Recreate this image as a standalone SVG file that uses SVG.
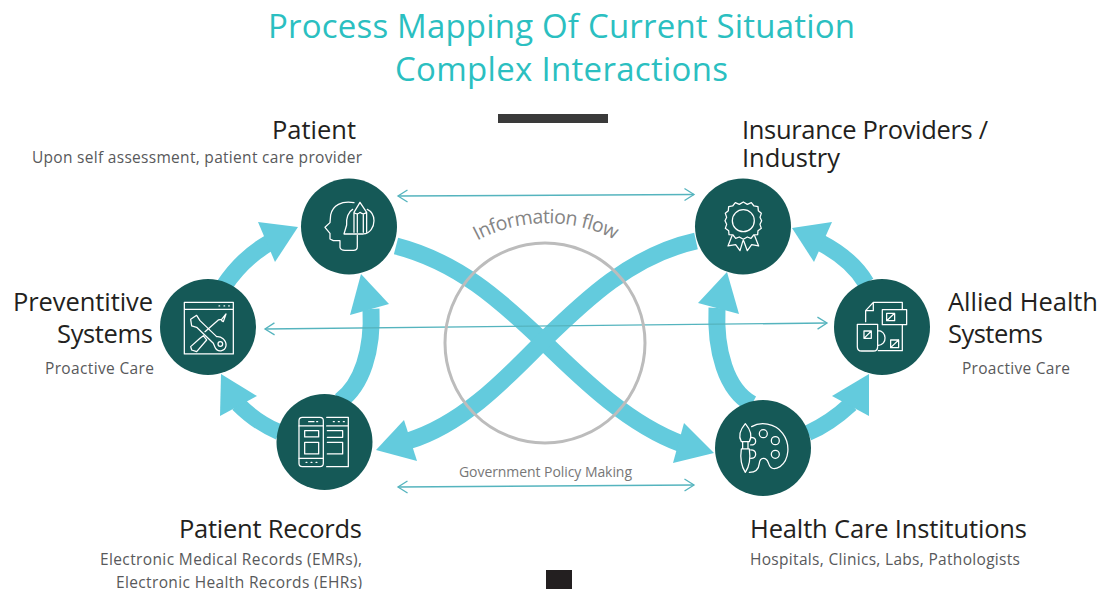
<svg xmlns="http://www.w3.org/2000/svg" width="1102" height="589" viewBox="0 0 1102 589">
<style>
text{font-family:"Open Sans","Noto Sans","Liberation Sans",sans-serif}
.title{font-size:33px;fill:#2bbfc1}
.h{font-size:25.500px;fill:#231f20}
.s{font-size:15.500px;fill:#58595b}
.band{fill:none;stroke:#63cbdd}
.head{fill:#63cbdd}
.node{fill:#155957}
.ic{fill:none;stroke:#fff;stroke-width:3.800;stroke-linejoin:round;stroke-linecap:round}
.thin{fill:none;stroke:#55b4be;stroke-width:1.400}
</style>
<defs>
<marker id="chev" markerUnits="userSpaceOnUse" markerWidth="14" markerHeight="16" refX="10.500" refY="6.500" orient="auto-start-reverse" viewBox="0 0 14 13">
<path d="M1 .5L10.500 6.500L1 12.500" fill="none" stroke="#55b4be" stroke-width="1.300"/>
</marker>
<path id="arc" d="M462 250A148 148 0 0 1 632 250"/>
</defs>
<rect width="1102" height="589" fill="#fff"/>
<text class="title" x="268" y="38" textLength="587" lengthAdjust="spacing">Process Mapping Of Current Situation</text>
<text class="title" x="395" y="81" textLength="333" lengthAdjust="spacing">Complex Interactions</text>
<rect x="498" y="114" width="110" height="9" fill="#3a3a3a"/>
<rect x="546" y="570" width="26" height="19" fill="#231f20"/>
<g id="connectors">
<path class="band" stroke-width="17" d="M224 286C236 268 250 254 269 243"/>
<polygon class="head" points="298,227 258,222 275,262"/>
<path class="band" stroke-width="17" d="M340 401C362 385 373 350 371 309"/>
<polygon class="head" points="361,274 350,315 389,304"/>
<path class="band" stroke-width="16" d="M279 432C262 425 250 416 238 404"/>
<polygon class="head" points="221,374 257,396 220,416"/>
<path class="band" stroke-width="17" d="M396 246C458 262 500 300 543 341C585 382 630 425 682 444"/>
<polygon class="head" points="714,453 684,423 673,463"/>
<path class="band" stroke-width="17" d="M696 241C632 255 585 300 543 341C500 385 460 425 408 441"/>
<polygon class="head" points="376,450 404,420 417,461"/>
<path class="band" stroke-width="17" d="M752 404C726 390 715 350 717 308"/>
<polygon class="head" points="727,272 698,303 739,314"/>
<path class="band" stroke-width="17" d="M866 283C856 266 842 254 821 243"/>
<polygon class="head" points="792,228 832,222 814,262"/>
<path class="band" stroke-width="16" d="M808 433C824 426 838 416 851 404"/>
<polygon class="head" points="869,374 832,396 869,416"/>
<path class="thin" marker-start="url(#chev)" marker-end="url(#chev)" d="M398 196L694 194.500"/>
<path class="thin" marker-start="url(#chev)" marker-end="url(#chev)" d="M265 329L827 323"/>
<path class="thin" marker-start="url(#chev)" marker-end="url(#chev)" d="M398 487L694 485"/>
</g>
<circle id="flow-ring" cx="545" cy="343" r="100" fill="none" stroke="#bcbcbc" stroke-width="3"/>
<text font-size="19.500" fill="#858585" letter-spacing="-.6"><textPath href="#arc" startOffset="18">Information flow</textPath></text>
<text class="s" x="459" y="477" style="font-size:14px;fill:#777" textLength="173" lengthAdjust="spacing">Government Policy Making</text>

<g id="patient">
<circle class="node" cx="349" cy="226.500" r="48"/>
<g transform="translate(150 170) scale(.3333)" class="ic">
<path d="M612 98C575 92 548 105 542 135L540 158L525 172L540 190L540 207L550 212L570 212L570 232Q572 241 585 241L610 241Q622 241 622 230L622 196"/>
<path d="M608 118C595 125 588 145 590 165L582 192L640 192C660 190 672 172 672 152C672 135 664 124 652 118"/>
<path d="M630 97L612 127L612 187M630 97L650 127L650 187M612 127Q621 136 630 127Q640 136 650 127M622 133L622 187M640 133L640 187"/>
</g>
<text class="h" x="272" y="139" textLength="84" lengthAdjust="spacing">Patient</text>
<text class="s" x="32" y="163" textLength="330" lengthAdjust="spacing">Upon self assessment, patient care provider</text>
</g>
<g id="preventitive-systems">
<circle class="node" cx="208" cy="327" r="48"/>
<g transform="translate(150 170) scale(.3333)" class="ic">
<path d="M103 397L250 397L250 552L103 552ZM103 418L250 418"/>
<path d="M207 408L209 408M222 408L224 408M236 408L238 408"/>
<path d="M122 448L140 436L150 452L200 500C212 498 230 510 228 528C225 545 202 548 195 532L190 520L140 472L125 468Z"/>
<circle cx="211" cy="522" r="7"/>
<path d="M165 485L205 450L215 448L228 432L220 455L215 452"/>
<path d="M150 505L160 497L170 510L140 545L125 540L122 530Z"/>
</g>
<text class="h" x="13" y="311" textLength="140" lengthAdjust="spacing">Preventitive</text>
<text class="h" x="57" y="343" textLength="96" lengthAdjust="spacing">Systems</text>
<text class="s" x="45" y="374" textLength="109" lengthAdjust="spacing">Proactive Care</text>
</g>
<g id="patient-records">
<circle class="node" cx="324.500" cy="442" r="48"/>
<g transform="translate(200 340) scale(.3333)" class="ic">
<rect x="297" y="232" width="73" height="148" rx="10"/>
<path d="M297 258L370 258M297 355L370 355M326 245L342 245M350 245L353 245M318 367L321 367M333 367L336 367M348 367L351 367"/>
<rect x="314" y="272" width="42" height="19"/><rect x="314" y="307" width="42" height="35"/>
<path d="M380 232L445 232L445 380L380 380M380 258L445 258M400 245L403 245M415 245L418 245M430 245L433 245M382 272L428 272L428 292L382 292M382 307L428 307L428 342L382 342"/>
</g>
<text class="h" x="179" y="538" textLength="183" lengthAdjust="spacing">Patient Records</text>
<text class="s" x="100" y="565" textLength="262" lengthAdjust="spacing">Electronic Medical Records (EMRs),</text>
<text class="s" x="116" y="588" textLength="246" lengthAdjust="spacing">Electronic Health Records (EHRs)</text>
</g>
<g id="insurance-providers">
<circle class="node" cx="743" cy="226.500" r="48"/>
<g transform="translate(640 170) scale(.3333)" class="ic">
<circle cx="310" cy="152" r="33"/>
<path d="M310 96L322 103L334 98L342 108L354 110L355 122L364 130L360 142L365 152L360 163L364 175L354 182L353 194L341 195L333 205L322 201L310 208L298 201L287 205L279 195L267 194L266 182L256 175L260 163L255 152L260 142L256 130L265 122L266 110L278 108L286 98L298 103Z"/>
<path d="M276 197L264 228L287 224L300 242L309 212M311 212L322 242L335 224L356 228L344 197"/>
</g>
<text class="h" x="742" y="139" textLength="246" lengthAdjust="spacing">Insurance Providers /</text>
<text class="h" x="742" y="167" textLength="98" lengthAdjust="spacing">Industry</text>
</g>
<g id="allied-health-systems">
<circle class="node" cx="882" cy="327" r="48"/>
<g transform="translate(660 280) scale(.3333)" class="ic">
<path d="M617 125L617 92L640 67L727 67L727 88M640 67L640 92L617 92M727 135L727 212L655 212"/>
<rect x="667" y="89" width="73" height="45"/>
<path d="M680 100L704 100L704 122L680 122ZM680 122L704 100"/>
<path d="M592 133L653 133L653 200Q653 213 640 213L605 213Q592 213 592 200ZM653 152C680 150 685 195 653 197"/>
<path d="M612 153L634 153L634 175L612 175ZM612 175L634 153M692 180L716 180L716 203L692 203ZM692 203L716 180"/>
</g>
<text class="h" x="948" y="311" textLength="150" lengthAdjust="spacing">Allied Health</text>
<text class="h" x="948" y="343" textLength="95" lengthAdjust="spacing">Systems</text>
<text class="s" x="962" y="374" textLength="108" lengthAdjust="spacing">Proactive Care</text>
</g>
<g id="health-care-institutions">
<circle class="node" cx="763" cy="448" r="48"/>
<g transform="translate(660 280) scale(.3333)" class="ic">
<path d="M256 431C240 450 235 470 244 485L268 485C277 470 272 450 256 431ZM248 485L248 507L264 507L264 485M244 507C240 535 245 560 256 577C268 560 272 535 268 507Z"/>
<path d="M275 440C300 425 345 428 368 460C392 492 388 540 360 560C340 572 330 565 325 548C318 530 300 532 298 550C296 570 285 577 268 577"/>
<path d="M272 472C292 472 292 495 272 495M272 510C292 510 292 535 272 535"/>
<circle cx="310" cy="461" r="12"/><circle cx="346" cy="482" r="12"/><circle cx="346" cy="523" r="12"/>
</g>
<text class="h" x="750" y="538" textLength="277" lengthAdjust="spacing">Health Care Institutions</text>
<text class="s" x="750" y="565" textLength="270" lengthAdjust="spacing">Hospitals, Clinics, Labs, Pathologists</text>
</g>
</svg>
